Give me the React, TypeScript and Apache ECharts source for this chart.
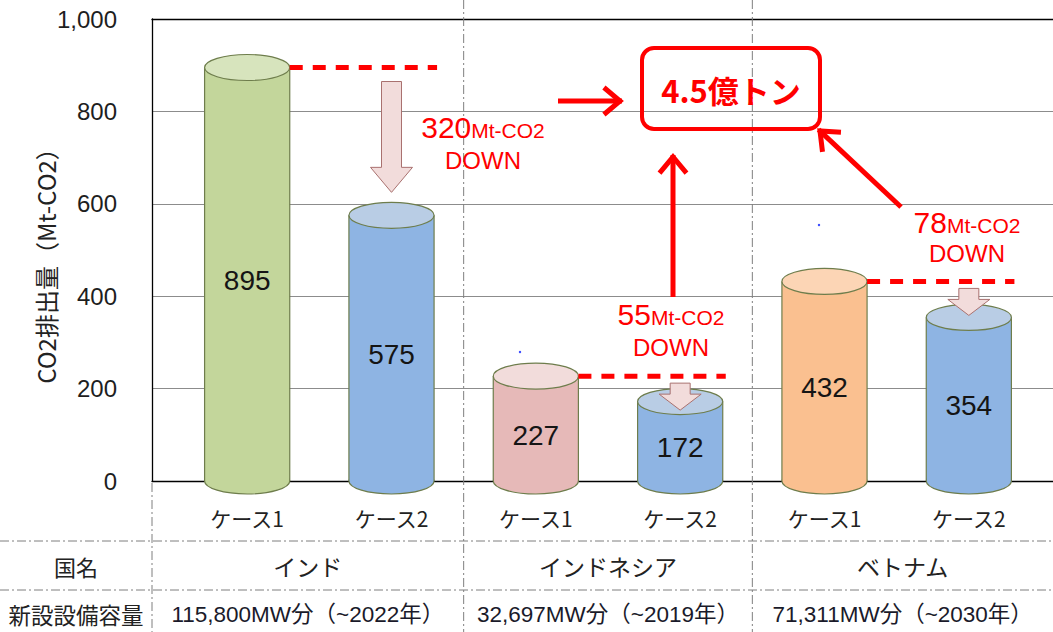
import { useEffect, useRef } from 'react';
import * as echarts from 'echarts';

// Emissions per case (Mt-CO2), two cases per country
const caseLabels = ['ケース1', 'ケース2', 'ケース1', 'ケース2', 'ケース1', 'ケース2'];
const emissions = [895, 575, 227, 172, 432, 354];
const countries = ['インド', 'インドネシア', 'ベトナム'];
const capacities = ['115,800MW分（~2022年）', '32,697MW分（~2019年）', '71,311MW分（~2030年）'];
const reductions = [320, 55, 78];
const totalReduction = '4.5億トン';
const rowHeaders = ['国名', '新設設備容量'];
const yAxisTitle = 'CO2排出量（Mt-CO2）';
const yMin = 0;
const yMax = 1000;
const yStep = 200;

// Styling
const bodyColors = ['#C3D69B', '#8EB4E3', '#E6B9B8', '#8EB4E3', '#FAC090', '#8EB4E3'];
const topColors = ['#D7E4BD', '#B9CDE5', '#F2DCDB', '#B9CDE5', '#FCD5B5', '#B9CDE5'];
const OUTLINE = '#6E7D4C';
const RED = '#FF0000';
const LATIN = '"Liberation Sans", "Noto Sans CJK JP", sans-serif';
const JP = '"Noto Sans CJK JP", "Liberation Sans", sans-serif';
const TABLE_LINE = '#7F7F7F';
const BAND_RATIO = 0.295;
const RY = 13;

function arrowLines(x0: number, y0: number, x1: number, y1: number) {
  const len = Math.hypot(x1 - x0, y1 - y0);
  const bx = (x0 - x1) / len;
  const by = (y0 - y1) / len;
  const a = (40 * Math.PI) / 180;
  const w = 21;
  const r1 = [x1 + w * (bx * Math.cos(a) - by * Math.sin(a)), y1 + w * (bx * Math.sin(a) + by * Math.cos(a))];
  const r2 = [x1 + w * (bx * Math.cos(a) + by * Math.sin(a)), y1 + w * (-bx * Math.sin(a) + by * Math.cos(a))];
  const style = { stroke: RED, lineWidth: 5, fill: 'none', lineJoin: 'miter' };
  return [
    { type: 'line', z: 20, shape: { x1: x0, y1: y0, x2: x1 - bx * 2, y2: y1 - by * 2 }, style },
    { type: 'polyline', z: 20, shape: { points: [r1, [x1, y1], r2] }, style },
  ];
}

export default function App() {
  const ref = useRef<HTMLDivElement>(null);

  useEffect(() => {
    document.body.style.margin = '0';
    const chart = echarts.init(ref.current!, null, { renderer: 'svg' });

    chart.setOption({
      animation: false,
      backgroundColor: '#ffffff',
      textStyle: { fontFamily: LATIN },
      grid: [
        { left: 152, right: 0, top: 19, bottom: 151 },
        { left: 175, right: 12, top: 19, bottom: 151 },
      ],
      xAxis: [
        {
          gridIndex: 0, type: 'value', min: 0, max: 1,
          axisLine: { show: true, lineStyle: { color: '#000', width: 1.3 } },
          axisTick: { show: false }, axisLabel: { show: false }, splitLine: { show: false },
        },
        {
          gridIndex: 1, type: 'category', data: caseLabels,
          axisLine: { show: false }, axisTick: { show: false },
          axisLabel: { margin: 26, fontSize: 21, color: '#222', fontFamily: JP },
          splitLine: { show: false },
        },
        {
          gridIndex: 0, type: 'value', min: 0, max: 1, position: 'top',
          axisLine: { show: true, lineStyle: { color: '#000', width: 1.3 } },
          axisTick: { show: false }, axisLabel: { show: false }, splitLine: { show: false },
        },
      ],
      yAxis: [
        {
          gridIndex: 0, type: 'value', min: yMin, max: yMax, interval: yStep,
          axisLine: { show: true, lineStyle: { color: '#000', width: 1.3 } },
          axisTick: { show: false },
          axisLabel: {
            margin: 35, fontSize: 24, color: '#1e1e1e', fontFamily: LATIN,
            formatter: (v: number) => v.toLocaleString('en-US'),
          },
          splitLine: { show: true, lineStyle: { color: '#8C8C8C', width: 1.2 } },
        },
        { gridIndex: 1, type: 'value', min: yMin, max: yMax, interval: yStep, show: false },
      ],
      series: [
        {
          type: 'custom',
          xAxisIndex: 1,
          yAxisIndex: 1,
          clip: false,
          encode: { x: 0, y: 1 },
          data: emissions.map((v, i) => [i, v]),
          renderItem: (params: any, api: any) => {
            const idx = api.value(0);
            const v = api.value(1);
            const [x, yTop] = api.coord([idx, v]);
            const y0 = api.coord([idx, 0])[1];
            const rx = api.size([1, 0])[0] * BAND_RATIO;
            const line = { stroke: OUTLINE, lineWidth: 1.2 };
            return {
              type: 'group',
              children: [
                { type: 'ellipse', shape: { cx: x, cy: y0, rx, ry: RY }, style: { fill: bodyColors[idx], ...line } },
                { type: 'rect', shape: { x: x - rx, y: yTop, width: rx * 2, height: y0 - yTop }, style: { fill: bodyColors[idx] } },
                { type: 'line', shape: { x1: x - rx, y1: yTop, x2: x - rx, y2: y0 }, style: line },
                { type: 'line', shape: { x1: x + rx, y1: yTop, x2: x + rx, y2: y0 }, style: line },
                { type: 'ellipse', shape: { cx: x, cy: yTop, rx, ry: RY }, style: { fill: topColors[idx], ...line } },
                {
                  type: 'text', x, y: (yTop + y0 + RY) / 2,
                  style: { text: String(v), fill: '#151515', fontSize: 28, fontFamily: LATIN, align: 'center', verticalAlign: 'middle' },
                },
              ],
            };
          },
        },
      ],
    });

    const px = (i: number, v: number) => chart.convertToPixel({ gridIndex: 1 }, [i, v]) as number[];
    const frame0 = chart.convertToPixel({ gridIndex: 0 }, [0, 0]) as number[];
    const left = frame0[0];
    const base = frame0[1];
    const W = chart.getWidth();
    const H = chart.getHeight();
    const band = px(1, 0)[0] - px(0, 0)[0];
    const rx = band * BAND_RATIO;
    const sep1 = (px(1, 0)[0] + px(2, 0)[0]) / 2;
    const sep2 = (px(3, 0)[0] + px(4, 0)[0]) / 2;
    const cells = [[left, sep1], [sep1, sep2], [sep2, W]];

    const graphics: any[] = [];
    const dashDot = { stroke: TABLE_LINE, lineWidth: 1, lineDash: [9, 3, 2, 3] };

    // Table rules
    graphics.push({ type: 'line', shape: { x1: 0, y1: 541, x2: W, y2: 541 }, style: dashDot });
    graphics.push({ type: 'line', shape: { x1: 0, y1: 590, x2: W, y2: 590 }, style: dashDot });
    graphics.push({ type: 'line', shape: { x1: left, y1: base + 2, x2: left, y2: H }, style: dashDot });
    [sep1, sep2].forEach((sx) => {
      graphics.push({ type: 'line', z: 1, shape: { x1: sx, y1: 0, x2: sx, y2: H }, style: dashDot });
    });

    // Table text
    graphics.push({ type: 'text', x: 76, y: 566, style: { text: rowHeaders[0], fill: '#222', fontSize: 22, fontFamily: JP, align: 'center', verticalAlign: 'middle' } });
    graphics.push({ type: 'text', x: 76, y: 614, style: { text: rowHeaders[1], fill: '#222', fontSize: 22.5, fontFamily: JP, align: 'center', verticalAlign: 'middle' } });
    cells.forEach(([a, b], g) => {
      const cx = (a + b) / 2;
      graphics.push({ type: 'text', x: cx, y: 566, style: { text: countries[g], fill: '#222', fontSize: 23, fontFamily: JP, align: 'center', verticalAlign: 'middle' } });
      graphics.push({ type: 'text', x: cx, y: 614, style: { text: capacities[g], fill: '#1a1a2a', fontSize: 22.5, fontFamily: LATIN, align: 'center', verticalAlign: 'middle' } });
    });

    // Y axis title
    graphics.push({
      type: 'text', x: 45, y: 260, rotation: Math.PI / 2,
      style: { text: yAxisTitle, fill: '#222', fontSize: 24, fontFamily: JP, align: 'center', verticalAlign: 'middle' },
    });

    // Reduction markers: dashed level of case 1 and block arrow down to case 2
    const labelPos = [
      [483, 127, 160],
      [671, 314, 347],
      [967, 222, 253],
    ];
    for (let g = 0; g < 3; g++) {
      const i1 = g * 2;
      const i2 = g * 2 + 1;
      const [x1, y1] = px(i1, emissions[i1]);
      const [x2, y2] = px(i2, emissions[i2]);
      graphics.push({
        type: 'line', z: 15,
        shape: { x1: x1 + rx, y1, x2: x2 + rx + 3, y2: y1 },
        style: { stroke: RED, lineWidth: 5, lineDash: [13, 10] },
      });
      const top = y1 + (g === 0 ? 14 : 7);
      const bottom = Math.max(y2 - RY - 10, top + 27);
      const head = bottom - top > 60 ? 25 : 16;
      graphics.push({
        type: 'polygon', z: 15,
        shape: {
          points: [
            [x2 - 10, top], [x2 + 10, top], [x2 + 10, bottom - head], [x2 + 21, bottom - head],
            [x2, bottom], [x2 - 21, bottom - head], [x2 - 10, bottom - head],
          ],
        },
        style: { fill: '#F2DCDB', stroke: '#A9716F', lineWidth: 1 },
      });
      const [lx, ly1, ly2] = labelPos[g];
      graphics.push({
        type: 'text', x: lx, y: ly1, z: 20,
        style: {
          text: `{n|${reductions[g]}}{u|Mt-CO2}`,
          align: 'center', verticalAlign: 'middle', fill: RED,
          rich: {
            n: { fontSize: 30, fontFamily: LATIN, fill: RED, verticalAlign: 'bottom' },
            u: { fontSize: 21, fontFamily: LATIN, fill: RED, verticalAlign: 'bottom', padding: [0, 0, 1, 0] },
          },
        },
      });
      graphics.push({
        type: 'text', x: lx, y: ly2, z: 20,
        style: { text: 'DOWN', fill: RED, fontSize: 24, fontFamily: LATIN, align: 'center', verticalAlign: 'middle' },
      });
    }

    // Total reduction callout
    graphics.push({
      type: 'rect', z: 20,
      shape: { x: 642, y: 48, width: 178, height: 81, r: 12 },
      style: { fill: 'none', stroke: RED, lineWidth: 4 },
    });
    graphics.push({
      type: 'text', x: 731, y: 89, z: 20,
      style: { text: totalReduction, fill: RED, fontSize: 31, fontWeight: 'bold', fontFamily: JP, align: 'center', verticalAlign: 'middle' },
    });
    graphics.push(...arrowLines(558, 101, 620, 101));
    graphics.push(...arrowLines(673, 297, 673, 157));
    graphics.push(...arrowLines(901, 207, 820, 131));

    // Small stray marks
    graphics.push({ type: 'circle', z: 20, shape: { cx: 520, cy: 352, r: 1.2 }, style: { fill: '#3344FF' } });
    graphics.push({ type: 'circle', z: 20, shape: { cx: 819, cy: 225, r: 1.2 }, style: { fill: '#3344FF' } });

    chart.setOption({ graphic: graphics });

    return () => chart.dispose();
  }, []);

  return <div ref={ref} style={{ width: 1053, height: 632 }} />;
}
